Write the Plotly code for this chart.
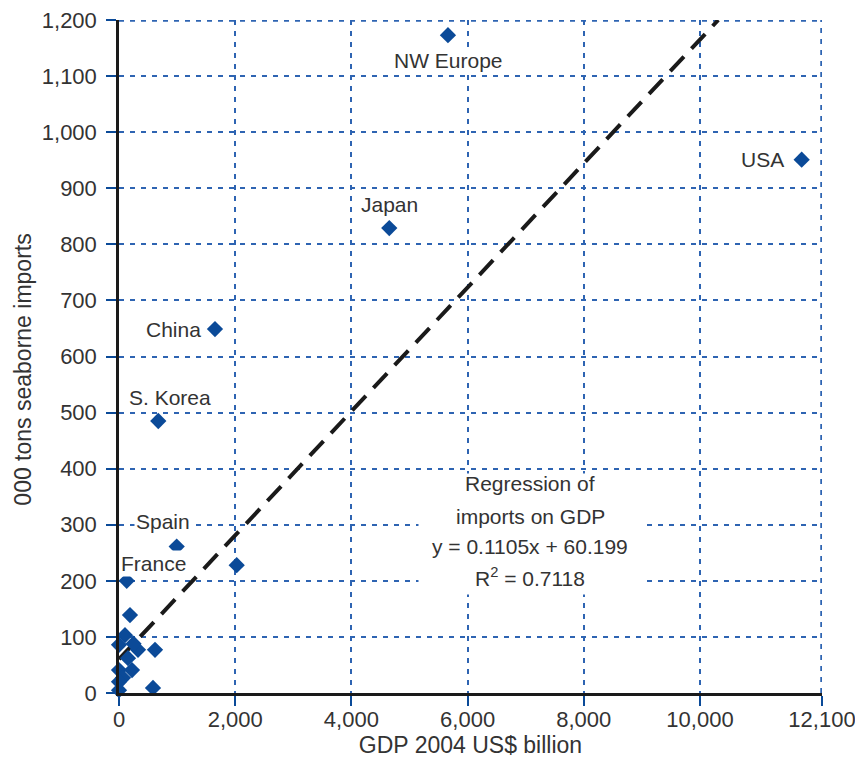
import plotly.graph_objects as go

# ---- data ----
gdp = [5662, 11750, 4652, 1652, 676, 993, 2026, 133, 189, 103, 0, 620, 327, 250,
       155, 0, 224, 69, 0, 0, 585]
imports = [1173, 951, 829, 649, 485, 261, 228, 200, 139, 103, 86, 77, 77, 88,
           62, 41, 41, 27, 20, 5, 9]

labels = ["NW Europe", "USA", "Japan", "China", "S. Korea", "Spain", "France"]
label_x = [5662, 11750, 4652, 1652, 676, 993, 133]
label_y = [1173, 951, 829, 649, 485, 261, 200]

slope = 0.1105
intercept = 60.199
reg_text = ["Regression of", "imports on GDP", "y = 0.1105x + 60.199", "R<sup>2</sup> = 0.7118"]

x_max = 12100
y_max = 1200
x_ticks = [0, 2000, 4000, 6000, 8000, 10000, 12100]
x_ticktext = ["0", "2,000", "4,000", "6,000", "8,000", "10,000", "12,100"]
y_ticks = list(range(0, 1201, 100))
y_ticktext = [f"{v:,}" for v in y_ticks]

BLUE = "#0b4a98"
GRID = "#2e64b2"
TXT = "#333333"
FONT = "Liberation Sans, Arial, sans-serif"
DASH = "5px,6px"

fig = go.Figure()

x_end = (y_max - intercept) / slope
fig.add_trace(go.Scatter(
    x=[0, x_end], y=[intercept, slope * x_end + intercept],
    mode="lines", line=dict(color="#1a1a1a", width=4, dash="20px,11px"),
    hoverinfo="skip", showlegend=False))

fig.add_trace(go.Scatter(
    x=gdp, y=imports, mode="markers", cliponaxis=False,
    marker=dict(symbol="diamond", size=12.5, color=BLUE, line=dict(width=0)),
    showlegend=False))

# grid lines along the top and right edges of the plot
fig.add_shape(type="line", xref="paper", yref="y", x0=0, x1=1, y0=y_max, y1=y_max,
              line=dict(color=GRID, width=3.5, dash=DASH), layer="below")
fig.add_shape(type="line", xref="x", yref="paper", x0=x_max, x1=x_max, y0=0, y1=1,
              line=dict(color=GRID, width=3.5, dash=DASH), layer="below")

# point labels: (xanchor, xshift, yshift)
offsets = {
    "NW Europe": ("center", 1, -25),
    "USA": ("right", -16, 0),
    "Japan": ("center", 0, 24),
    "China": ("right", -12, 0),
    "S. Korea": ("center", 12, 24),
    "Spain": ("center", -14, 25),
    "France": ("center", 27, 17),
}
for name, lx, ly in zip(labels, label_x, label_y):
    xa, xs, ys = offsets[name]
    fig.add_annotation(x=lx, y=ly, text=name, showarrow=False, xanchor=xa,
                       yanchor="middle", xshift=xs, yshift=ys,
                       font=dict(family=FONT, size=21, color=TXT),
                       bgcolor="white", borderpad=1)

# regression box: white panel hiding the grid, then the text lines
fig.add_annotation(xref="paper", yref="paper", x=0.425, y=0.327, text=" ",
                   showarrow=False, xanchor="left", yanchor="top",
                   width=222, height=120, bgcolor="white", borderpad=0,
                   font=dict(family=FONT, size=21, color=TXT))
for t, yp in zip(reg_text, [0.312, 0.263, 0.217, 0.172]):
    fig.add_annotation(xref="paper", yref="paper", x=0.585, y=yp, text=t,
                       showarrow=False, xanchor="center", yanchor="middle",
                       font=dict(family=FONT, size=21, color=TXT))

# y title as annotation
fig.add_annotation(xref="paper", yref="paper", x=-0.137, y=0.48,
                   text="000 tons seaborne imports", textangle=-90,
                   showarrow=False, xanchor="center", yanchor="middle",
                   font=dict(family=FONT, size=23, color=TXT))

fig.update_layout(
    width=863, height=763,
    margin=dict(l=111, r=49, t=12, b=78),
    paper_bgcolor="white", plot_bgcolor="white",
    font=dict(family=FONT, size=22, color=TXT),
    xaxis=dict(range=[0, x_max], tickvals=x_ticks, ticktext=x_ticktext,
               automargin=False, ticklabeloverflow="allow",
               showline=True, linecolor="#1a1a1a", linewidth=2.5,
               ticks="outside", ticklen=10, tickwidth=2, tickcolor=BLUE,
               showgrid=True, gridcolor=GRID, gridwidth=2, griddash=DASH,
               zeroline=False, ticklabelstandoff=-5,
               title=dict(text="GDP 2004 US$ billion", standoff=0,
                          font=dict(family=FONT, size=23, color=TXT)),
               tickfont=dict(family=FONT, size=22, color=TXT)),
    yaxis=dict(range=[0, y_max], tickvals=y_ticks, ticktext=y_ticktext,
               automargin=False, ticklabeloverflow="allow",
               showline=True, linecolor="#1a1a1a", linewidth=2.5,
               ticks="outside", ticklen=10, tickwidth=2, tickcolor=BLUE,
               showgrid=True, gridcolor=GRID, gridwidth=2, griddash=DASH,
               zeroline=False, ticklabelstandoff=5,
               tickfont=dict(family=FONT, size=22, color=TXT)),
)

fig.write_html("out.html")
